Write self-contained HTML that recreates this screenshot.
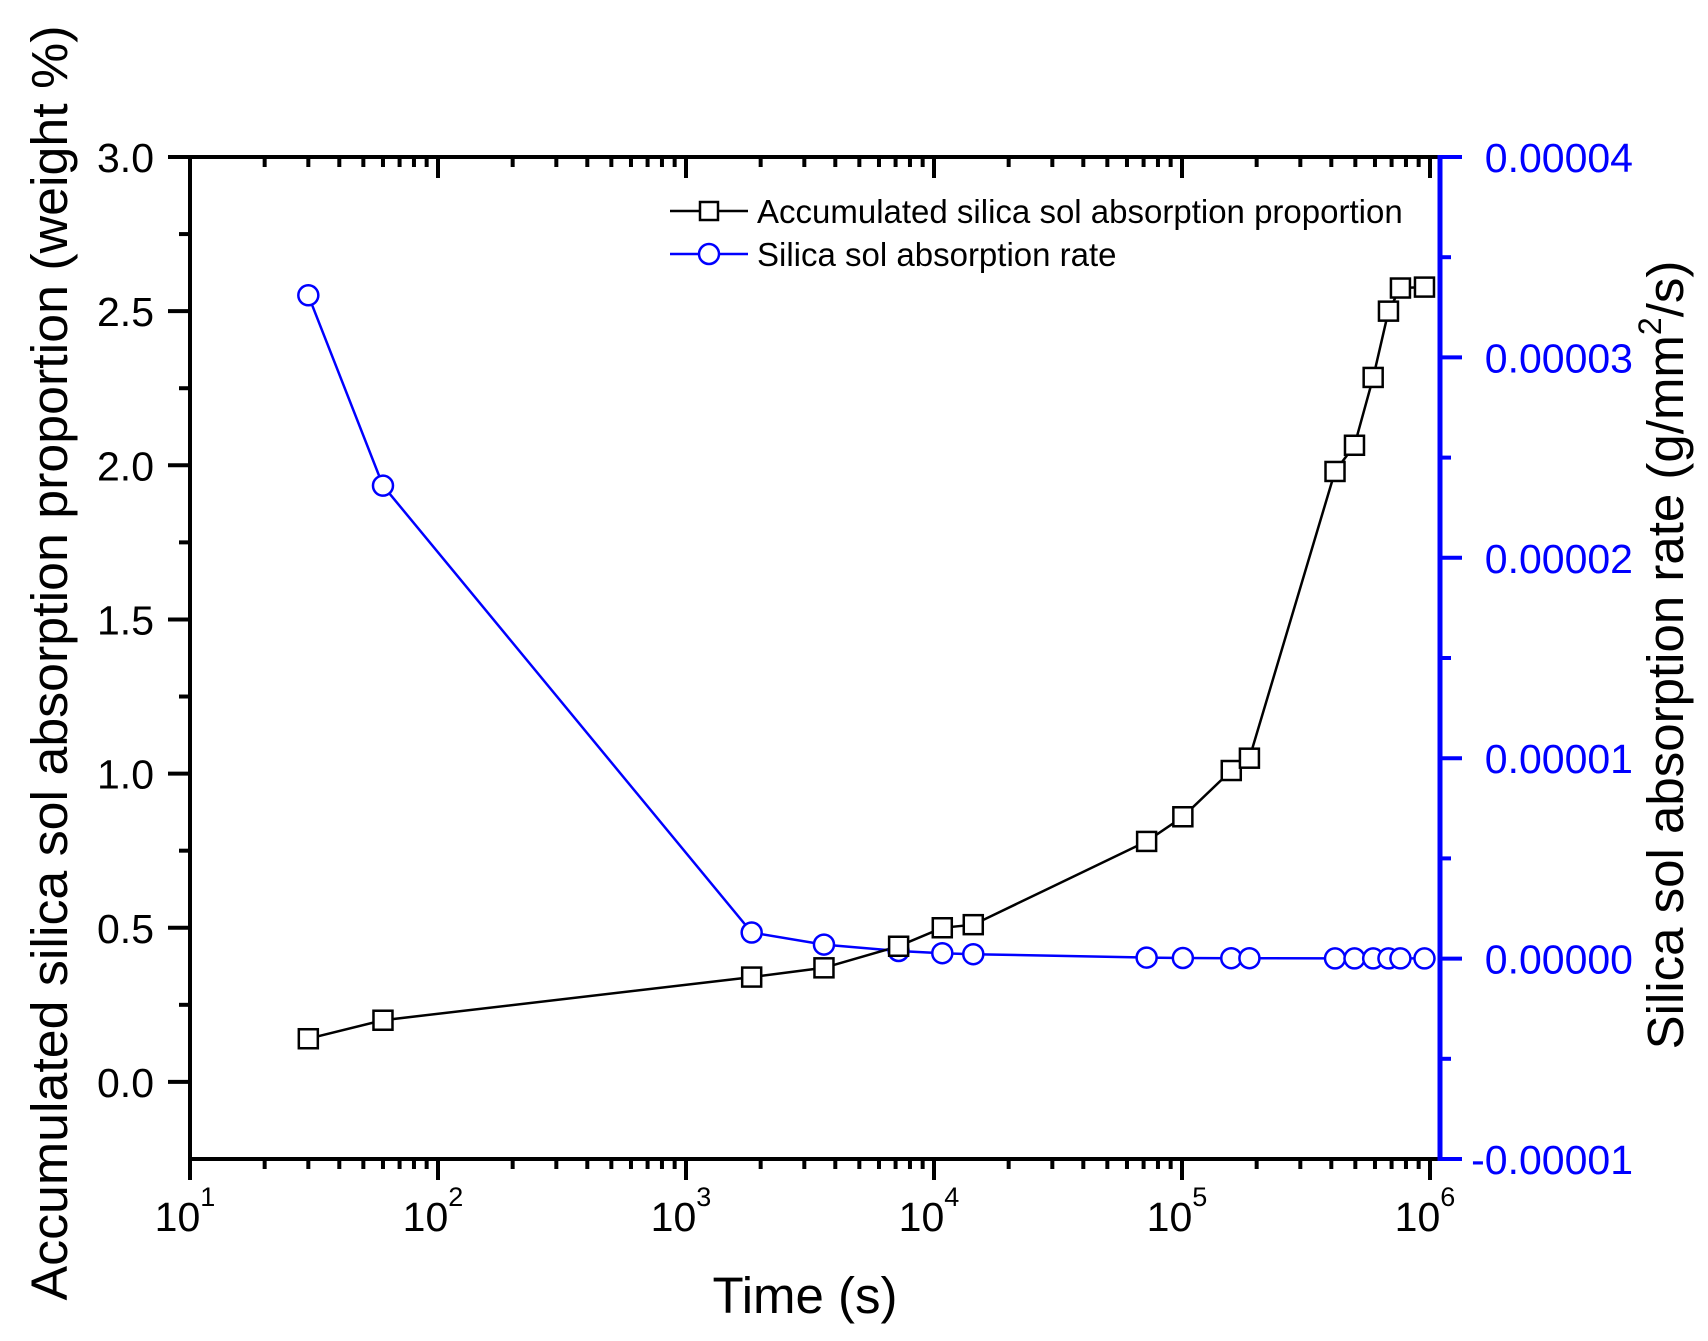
<!DOCTYPE html>
<html><head><meta charset="utf-8"><style>
html,body{margin:0;padding:0;background:#fff;}
svg{display:block;font-family:"Liberation Sans",Arial,sans-serif;}
</style></head><body>
<svg id="s" width="1708" height="1341" viewBox="0 0 1708 1341" xmlns="http://www.w3.org/2000/svg">
<rect width="1708" height="1341" fill="#fff"/>
<g id="g"></g>
<text x="805" y="1313" font-size="51" text-anchor="middle">Time (s)</text>
<text transform="translate(67,663) rotate(-90)" font-size="51" text-anchor="middle" textLength="1275" lengthAdjust="spacingAndGlyphs">Accumulated silica sol absorption proportion (weight %)</text>
<text transform="translate(1683,655) rotate(-90)" font-size="51" text-anchor="middle">Silica sol absorption rate (g/mm<tspan font-size="32" dy="-22">2</tspan><tspan dy="22">/s)</tspan></text>
<line x1="670" y1="211" x2="748" y2="211" stroke="#000" stroke-width="2.5"/>
<rect x="700" y="202" width="18" height="18" fill="#fff" stroke="#000" stroke-width="2.5"/>
<text x="757" y="223" font-size="33">Accumulated silica sol absorption proportion</text>
<line x1="670" y1="254" x2="748" y2="254" stroke="#00f" stroke-width="2.5"/>
<circle cx="709" cy="254" r="10" fill="#fff" stroke="#00f" stroke-width="2.5"/>
<text x="757" y="266" font-size="33">Silica sol absorption rate</text>
</svg>
<script>
var g=document.getElementById('g'),h='';
var L=190,R=1440,T=157,B=1159;
function X(t){return L+(Math.log10(t)-1)*248;}
function YL(v){return T+(3-v)*308.3;}
function YR(v){return 958.6-v*2.004e7;}
function ln(a,b,c,d,col,w){h+='<line x1="'+a+'" y1="'+b+'" x2="'+c+'" y2="'+d+'" stroke="'+col+'" stroke-width="'+(w||4)+'"/>';}
function tx(x,y,s,fs,anc,col){h+='<text x="'+x+'" y="'+y+'" font-size="'+fs+'" text-anchor="'+anc+'" fill="'+(col||'#000')+'">'+s+'</text>';}
for(var d=1;d<=6;d++){for(var m=1;m<10;m++){var t=m*Math.pow(10,d);var x=X(t);if(x>R-2)break;
 var len=m==1?21:10; ln(x,B,x,B+len,'#000',4); ln(x,T,x,T+len,'#000',4);}
 h+='<text x="'+(X(Math.pow(10,d))-5)+'" y="1231" font-size="41" text-anchor="middle">10<tspan font-size="27" dy="-25">'+d+'</tspan></text>';}
for(var i=0;i<=13;i++){var v=3-i*0.25;var y=YL(v);if(y>B-1)continue;var maj=(i%2==0);ln(L-(maj?22:11),y,L,y,'#000',4);
 if(maj)tx(154,y+15,v.toFixed(1),41,'end');}
for(var i=0;i<=10;i++){var v=4e-5-i*5e-6;var y=YR(v);var maj=(i%2==0);ln(R,y,R+(maj?22:11),y,'#00f',4);
 if(maj){var s=(v<0?'-':'')+Math.abs(v).toFixed(5);tx(1633,y+15,s,41,'end','#00f');}}
ln(L-2,T,R,T,'#000',4); ln(L,T,L,B+2,'#000',4); ln(L-2,B,R,B,'#000',4); ln(R,T-2,R,B+2,'#00f',5);
var ts=[30,60,1840,3600,7200,10800,14400,72000,100800,158000,187000,414000,496000,590000,680000,760000,950000];
var sq=[0.14,0.20,0.34,0.37,0.44,0.50,0.51,0.78,0.86,1.01,1.05,1.98,2.065,2.285,2.50,2.575,2.578];
var ci=[3.31e-5,2.36e-5,1.3e-6,0.7e-6,0.38e-6,0.27e-6,0.22e-6,0.05e-6,0.03e-6,0.02e-6,0.02e-6,0.01e-6,0.01e-6,0.01e-6,0.01e-6,0.01e-6,0.01e-6];
var p1='',p2='';
for(var i=0;i<ts.length;i++){p1+=(i?'L':'M')+X(ts[i]).toFixed(1)+','+YL(sq[i]).toFixed(1);p2+=(i?'L':'M')+X(ts[i]).toFixed(1)+','+YR(ci[i]).toFixed(1);}
h+='<path d="'+p2+'" fill="none" stroke="#00f" stroke-width="2.5"/>';
h+='<path d="'+p1+'" fill="none" stroke="#000" stroke-width="2.5"/>';
for(var i=0;i<ts.length;i++){h+='<circle cx="'+X(ts[i])+'" cy="'+YR(ci[i])+'" r="10" fill="#fff" stroke="#00f" stroke-width="2.5"/>';}
for(var i=0;i<ts.length;i++){h+='<rect x="'+(X(ts[i])-9.5)+'" y="'+(YL(sq[i])-9.5)+'" width="19" height="19" fill="#fff" stroke="#000" stroke-width="2.5"/>';}
g.innerHTML=h;
</script>
</body></html>
